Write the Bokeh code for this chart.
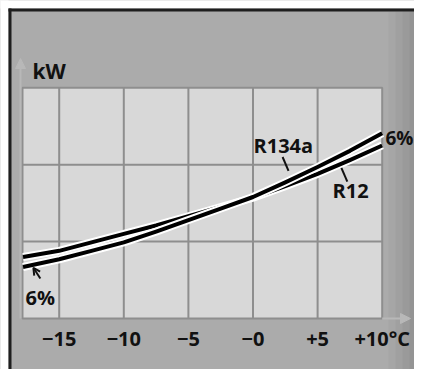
from bokeh.plotting import figure
from bokeh.models import FixedTicker, Label, Arrow, NormalHead, OpenHead, Range1d, ColumnDataSource
from bokeh.embed import file_html
from bokeh.resources import INLINE

# ---- data ----
temp_c = [-17.8, -15, -12.5, -10, -7.5, -5, -2.5, 0, 2.5, 5, 7.5, 10]
kw_r12 = [0.80, 0.88, 0.99, 1.10, 1.21, 1.33, 1.45, 1.57, 1.72, 1.88, 2.06, 2.25]
kw_r134a = [0.67, 0.77, 0.88, 0.99, 1.13, 1.28, 1.43, 1.58, 1.77, 1.97, 2.18, 2.41]
x_ticks = [-15, -10, -5, 0, 5, 10]
x_tick_labels = ["\u221215", "\u221210", "\u22125", "\u22120", "+5", "+10\u00b0C"]
y_grid = [1, 2]
y_max = 3

FONT = "Open Sans"
BG = "#ababab"
PANEL = "#d8d8d8"
GRID = "#8e8e8e"
INK = "#111111"

# canvas 414 x 369; the frame covers the whole canvas
W, H = 414, 369
PX_PER_X = 12.92                 # px per degree
PX_PER_Y = 76.9                  # px per kW unit
X_AT_0 = -15 - 58.7 / PX_PER_X   # data x at canvas left edge
X_AT_W = X_AT_0 + W / PX_PER_X
Y_TOP = 318 / PX_PER_Y           # data y at canvas top edge
Y_BOT = Y_TOP - H / PX_PER_Y


def xpx(px):
    return X_AT_0 + px / PX_PER_X


def ypx(py):
    return Y_TOP - py / PX_PER_Y


PANEL_LEFT = xpx(22)

p = figure(width=W, height=H, output_backend="svg", toolbar_location=None,
           x_range=Range1d(X_AT_0, X_AT_W), y_range=Range1d(Y_BOT, Y_TOP),
           min_border_left=0, min_border_right=0, min_border_top=0, min_border_bottom=0)
p.border_fill_color = BG
p.background_fill_color = BG
p.outline_line_color = None
p.grid.visible = False
p.yaxis.visible = False

p.xaxis.fixed_location = 0
p.xaxis.ticker = FixedTicker(ticks=x_ticks)
p.xaxis.major_label_overrides = {t: l for t, l in zip(x_ticks, x_tick_labels)}
p.xaxis.axis_line_color = None
p.xaxis.major_tick_line_color = None
p.xaxis.minor_tick_line_color = None
p.xaxis.major_tick_out = 0
p.xaxis.major_tick_in = 0
p.xaxis.major_label_standoff = 6
p.xaxis.major_label_text_font = FONT
p.xaxis.major_label_text_font_style = "bold"
p.xaxis.major_label_text_font_size = "20px"
p.xaxis.major_label_text_color = INK

# white page margin above / left of the picture frame
p.quad(left=[X_AT_0 - 1, X_AT_0 - 1], right=[xpx(8), X_AT_W + 1],
       bottom=[Y_BOT - 1, ypx(8)], top=[Y_TOP + 1, Y_TOP + 1],
       fill_color="white", line_color=None)

# darker shading on the right side of the picture
for i, c in enumerate(["#a6a6a6", "#a0a0a0", "#9a9a9a", "#949494"]):
    p.quad(left=xpx(388 + 7 * i), right=X_AT_W + 1, bottom=Y_BOT - 1, top=ypx(11),
           fill_color=c, line_color=None)

# plot panel + grid
p.quad(left=PANEL_LEFT, right=x_ticks[-1], bottom=0, top=y_max,
       fill_color=PANEL, line_color=GRID, line_width=2)
p.segment(x0=x_ticks[:-1], y0=[0] * 5, x1=x_ticks[:-1], y1=[y_max] * 5,
          line_color=GRID, line_width=2)
p.segment(x0=[PANEL_LEFT] * 2, y0=y_grid, x1=[x_ticks[-1]] * 2, y1=y_grid,
          line_color=GRID, line_width=2)

# axis arrows
ax_col = "#b8b8b8"
p.add_layout(Arrow(x_start=x_ticks[-1], y_start=0, x_end=xpx(410), y_end=0,
                   line_color=ax_col, line_width=2,
                   end=NormalHead(size=10, fill_color=ax_col, line_color=ax_col)))
p.add_layout(Arrow(x_start=xpx(20), y_start=0, x_end=xpx(20), y_end=ypx(58),
                   line_color=ax_col, line_width=2,
                   end=NormalHead(size=10, fill_color=ax_col, line_color=ax_col)))

# black frame lines (left and top)
p.segment(x0=[xpx(9.5), xpx(8)], y0=[Y_BOT - 1, ypx(9.5)], x1=[xpx(9.5), X_AT_W + 1],
          y1=[ypx(8), ypx(9.5)], line_color="#1e1e1e", line_width=3)

# curves
src = ColumnDataSource(dict(t=temp_c, r12=kw_r12, r134a=kw_r134a))
for col in ["r12", "r134a"]:
    p.line("t", col, source=src, line_color="white", line_width=8, line_join="round")
    p.line("t", col, source=src, line_color="black", line_width=4, line_join="round")


def lab(px, py, txt, size="20px"):
    # px, py: left edge and baseline of the text, in picture pixels
    p.add_layout(Label(x=xpx(px), y=ypx(py), text=txt, text_font=FONT,
                       text_font_style="bold", text_font_size=size, text_color=INK,
                       text_align="left", text_baseline="alphabetic"))


lab(32, 70, "kW", size="21px")
lab(253, 145, "R134a")
lab(332, 190, "R12")
lab(385, 137, "6%", size="19px")
lab(25, 297, "6%")

# pointer lines
p.segment(x0=[2.29, 6.84], y0=[2.10, 1.96], x1=[2.75, 7.30], y1=[1.92, 1.78],
          line_color=INK, line_width=2)
p.add_layout(Arrow(x_start=-16.46, y_start=0.52, x_end=-17.0, y_end=0.66, line_color=INK,
                   line_width=2, end=OpenHead(size=7, line_color=INK, line_width=2)))

open("out.html", "w").write(file_html(p, INLINE))
